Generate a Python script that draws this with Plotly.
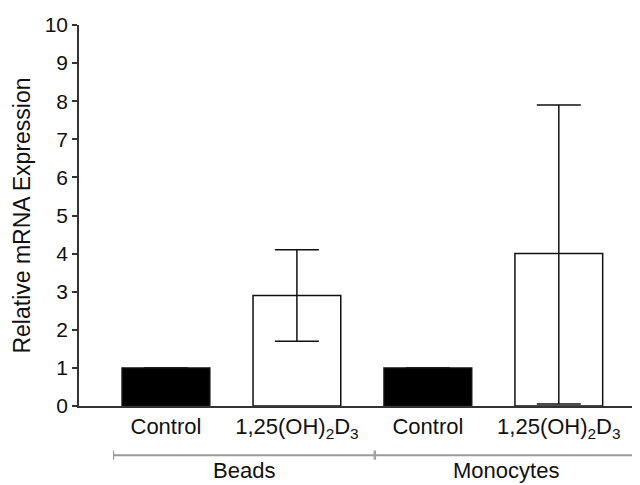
import plotly.graph_objects as go

NEGRO = "#111111"
GRIS = "#9a9a9a"

categorias = ["Control", "1,25(OH)<sub>2</sub>D<sub>3</sub>", "Control", "1,25(OH)<sub>2</sub>D<sub>3</sub>"]
posiciones = [0, 1, 2, 3]
valores = [1.0, 2.9, 1.0, 4.0]
error_sup = [0.0, 1.2, 0.0, 3.9]
error_inf = [0.0, 1.2, 0.0, 3.95]
colores = ["#000000", "#FFFFFF", "#000000", "#FFFFFF"]
grupos = ["Beads", "Monocytes"]
grupo_inicio = [0, 2]
grupo_fin = [1, 3]

# la página deja 8 px de margen en el body: se compensa en el tamaño
OFF = 8

fig = go.Figure()
fig.add_trace(go.Bar(
    x=posiciones, y=valores,
    width=0.67,
    marker=dict(color=colores, line=dict(color=NEGRO, width=1.5)),
    error_y=dict(type="data", symmetric=False, array=error_sup, arrayminus=error_inf,
                 color=NEGRO, thickness=1.5, width=22),
    showlegend=False,
))

# corchetes de grupo bajo el eje
for nombre, a, b in zip(grupos, grupo_inicio, grupo_fin):
    x0, x1 = a - 0.40, b + 0.59
    fig.add_shape(type="line", xref="x", yref="paper", x0=x0, x1=x1, y0=-0.129, y1=-0.129,
                  line=dict(color=GRIS, width=2))
    for xx in (x0, x1):
        fig.add_shape(type="line", xref="x", yref="paper", x0=xx, x1=xx, y0=-0.117, y1=-0.141,
                      line=dict(color=GRIS, width=1.2))
    fig.add_annotation(x=(x0 + x1) / 2, xref="x", y=-0.168, yref="paper", text=nombre,
                       showarrow=False, yanchor="middle",
                       font=dict(size=22, color=NEGRO))

fig.update_layout(
    width=640 - OFF, height=485 - OFF,
    plot_bgcolor="#FFFFFF", paper_bgcolor="#FFFFFF",
    font=dict(family="Liberation Sans, Arial, sans-serif", color=NEGRO, size=22),
    margin=dict(l=79 - OFF, r=0, t=25 - OFF, b=79),
    xaxis=dict(
        range=[-0.664, 3.62],
        tickvals=posiciones, ticktext=categorias,
        showline=True, linecolor="#333333", linewidth=1.5,
        ticks="", showgrid=False, zeroline=False,
        tickfont=dict(size=22, color=NEGRO),
    ),
    yaxis=dict(
        range=[0, 10], dtick=1,
        showline=True, linecolor="#333333", linewidth=1.5,
        ticks="outside", ticklen=5, tickwidth=1.5, tickcolor="#333333",
        showgrid=False, zeroline=False,
        tickfont=dict(size=21, color=NEGRO),
        title=dict(text="Relative mRNA Expression", font=dict(size=23, color=NEGRO), standoff=8),
    ),
)

fig.write_html("out.html")
